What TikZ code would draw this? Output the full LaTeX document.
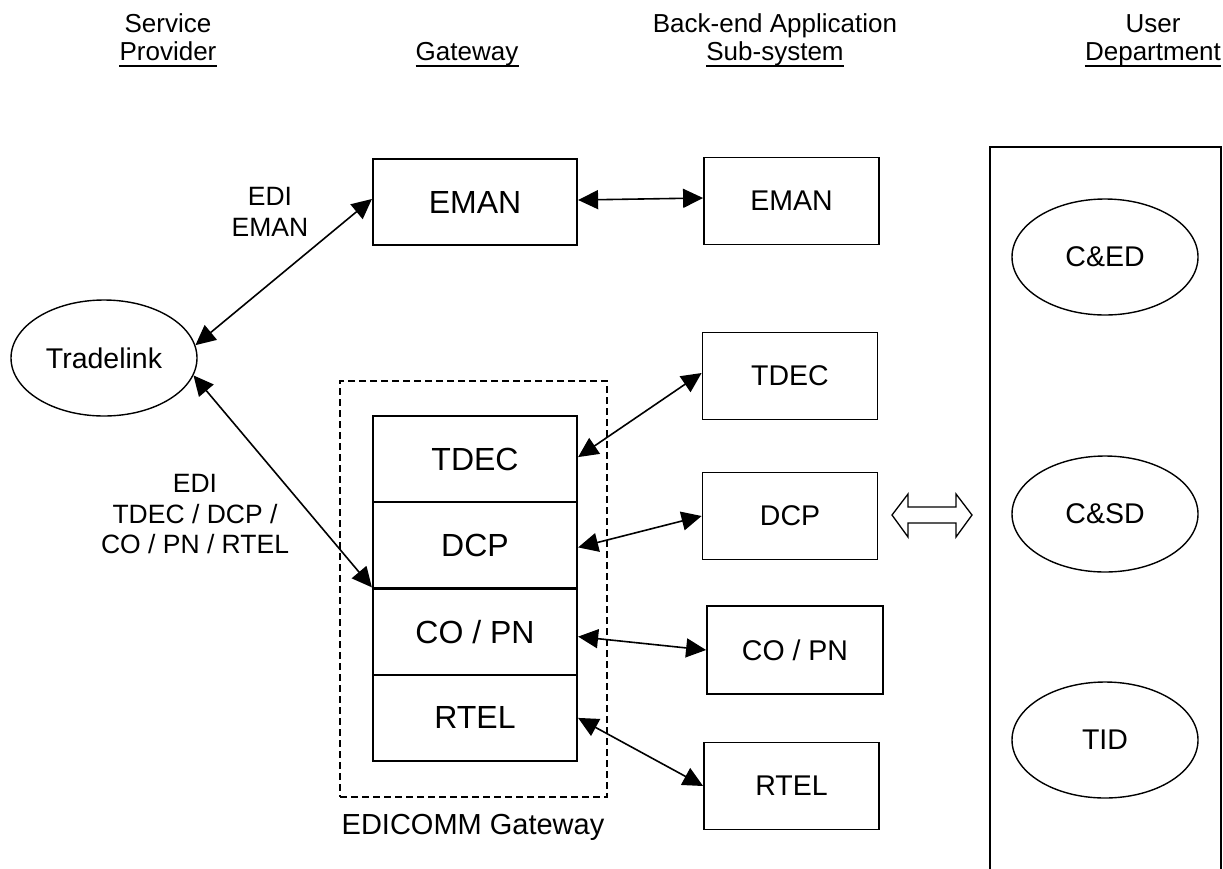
\documentclass[tikz,border=0pt]{standalone}
\usepackage{fontspec}
\setmainfont{Liberation Sans}
\usetikzlibrary{arrows.meta,shapes.geometric}
\begin{document}
\begin{tikzpicture}[x=1pt,y=-1pt,
  gwbox/.style={draw, line width=2.2pt, minimum width=204pt, minimum height=86.25pt,
    inner sep=0pt, font=\fontsize{32}{36}\selectfont},
  bebox/.style={draw, line width=1.8pt, minimum width=175pt, minimum height=87pt,
    inner sep=0pt, font=\fontsize{28.5}{32}\selectfont},
  party/.style={draw, ellipse, line width=1.4pt, minimum width=186pt, minimum height=116pt,
    inner sep=0pt, font=\fontsize{28.5}{32}\selectfont},
  lbl/.style={align=center, inner sep=0pt, font=\fontsize{26.5}{30.5}\selectfont},
  head/.style={inner sep=0pt, anchor=base, font=\fontsize{26}{30}\selectfont},
  uline/.style={line width=2pt},
  link/.style={<->, line width=1.6pt, >={Triangle[length=20pt,width=19pt]}},
  frame/.style={draw, dashed, dash pattern=on 7pt off 4pt, line width=2pt,
    minimum width=267pt, minimum height=416pt, inner sep=0pt}]
\useasboundingbox (0,0) rectangle (1223,868);

% column headings
\node[head] (svc)  at (168,32) {Service};
\node[head] (prov) at (168,60) {Provider};
\node[head] (gwh)  at (467,60) {Gateway};
\node[head] (bea)  at (775,32) {Back-end Application};
\node[head] (sub)  at (775,60) {Sub-system};
\node[head] (usr)  at (1153,32) {User};
\node[head] (dep)  at (1153,60) {Department};
\foreach \h in {prov,gwh,sub,dep}
  \draw[uline] ([yshift=-5.5pt]\h.base west) -- ([yshift=-5.5pt]\h.base east);

% service provider
\node[party] (trade) at (104,358) {Tradelink};

% gateways
\node[gwbox] (gwEMAN) at (475,202) {EMAN};
\node[frame] (edicomm) at (473.5,589) {};
\node[lbl, font=\fontsize{29}{32}\selectfont] (edilbl) at (473,827) {EDICOMM Gateway};
\node[gwbox] (gwTDEC) at (475,459.1) {TDEC};
\node[gwbox] (gwDCP)  at (475,545.4) {DCP};
\node[gwbox] (gwCO)   at (475,631.6) {CO / PN};
\node[gwbox] (gwRTEL) at (475,717.9) {RTEL};

% back-end application sub-systems
\node[bebox] (beEMAN) at (791.5,201) {EMAN};
\node[bebox] (beTDEC) at (790,376) {TDEC};
\node[bebox] (beDCP)  at (790,516) {DCP};
\node[bebox, minimum width=176pt, minimum height=88pt] (beCO) at (795,650) {CO / PN};
\node[bebox] (beRTEL) at (791.5,786) {RTEL};

% user departments
\draw[line width=1.8pt] (990,870) -- (990,147) -- (1221,147) -- (1221,870);
\node[party] (ced) at (1105,257) {C\&ED};
\node[party] (csd) at (1105,514) {C\&SD};
\node[party] (tid) at (1105,740) {TID};

% hollow two-way arrow between sub-systems and departments
\draw[line width=1.3pt, line join=miter]
  (892,515) -- (908,494) -- (908,507) -- (956,507) -- (956,494) -- (972,515)
  -- (956,537) -- (956,523) -- (908,523) -- (908,537) -- cycle;

% message labels
\node[lbl] (lblEMAN) at (270,212) {EDI\\EMAN};
\node[lbl] (lblEDI)  at (195,514.5) {EDI\\TDEC / DCP /\\CO / PN / RTEL};

% message flows
\draw[link] (trade.8) -- ([yshift=3pt]gwEMAN.west);
\draw[link] (trade.-11) -- (gwCO.north west);
\draw[link] ([yshift=2pt]gwEMAN.east) -- ([yshift=3pt]beEMAN.west);
\draw[link] ([yshift=2pt]gwTDEC.east) -- ([yshift=3pt]beTDEC.west);
\draw[link] ([yshift=-2pt]gwDCP.east) -- (beDCP.west);
\draw[link] ([yshift=-5pt]gwCO.east) -- (beCO.west);
\draw[link] (gwRTEL.east) -- (beRTEL.west);
\end{tikzpicture}
\end{document}
